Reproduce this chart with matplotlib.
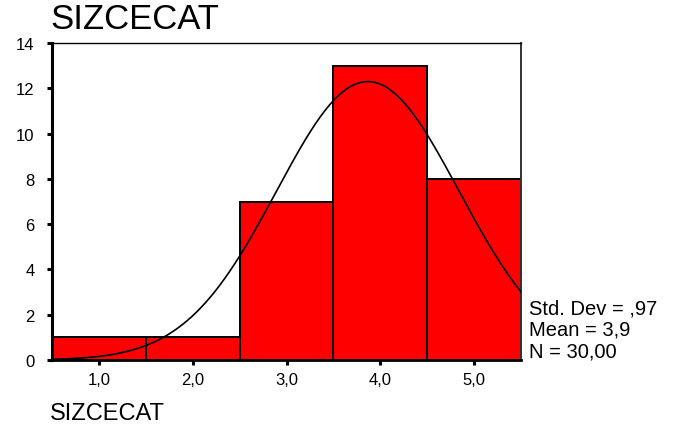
import matplotlib
matplotlib.use('Agg')
import matplotlib.pyplot as plt
import numpy as np

plt.rcParams['font.family'] = ['Liberation Sans', 'DejaVu Sans']

# histogram of SIZCECAT
categories = [1, 2, 3, 4, 5]
counts = [1, 1, 7, 13, 8]
tick_labels = ['1,0', '2,0', '3,0', '4,0', '5,0']
y_ticks = [0, 2, 4, 6, 8, 10, 12, 14]
stats_lines = ['Std. Dev = ,97', 'Mean = 3,9', 'N = 30,00']
var_name = 'SIZCECAT'


def normal_curve(cats, cnts, xs):
    cats = np.asarray(cats, dtype=float)
    cnts = np.asarray(cnts, dtype=float)
    n = cnts.sum()
    mean = (cats * cnts).sum() / n
    sd = np.sqrt(((cats - mean) ** 2 * cnts).sum() / (n - 1))
    # bin width is 1
    return n / (sd * np.sqrt(2 * np.pi)) * np.exp(-0.5 * ((xs - mean) / sd) ** 2)


def main():
    fig = plt.figure(figsize=(6.92, 4.27), dpi=100)
    ax = fig.add_axes([52 / 692, 66 / 427, 469 / 692, 317 / 427])

    ax.bar(categories, counts, width=1.0, color='#ff0000',
           edgecolor='black', linewidth=1.4, zorder=2)

    xs = np.linspace(0.5, 5.5, 300)
    ax.plot(xs, normal_curve(categories, counts, xs), color='black',
            linewidth=1.2, zorder=3)

    ax.set_xlim(0.5, 5.5)
    ax.set_ylim(0, 14)
    ax.set_xticks(categories)
    ax.set_xticklabels(tick_labels)
    ax.set_yticks(y_ticks)
    ax.tick_params(axis='both', direction='out', length=3.5, width=2.2,
                   labelsize=12, color='black')
    ax.tick_params(axis='x', pad=5)
    ax.tick_params(axis='y', pad=9)

    ax.spines['left'].set_linewidth(2.2)
    ax.spines['bottom'].set_linewidth(2.0)
    ax.spines['top'].set_linewidth(1.0)
    ax.spines['right'].set_linewidth(1.4)
    ax.spines['right'].set_color('#333333')

    # title: baseline just below the cap line of the reference
    fig.text(50 / 692, 1 - 29 / 427, var_name, fontsize=25,
             ha='left', va='baseline')
    fig.text(50 / 692, 1 - 414 / 427, var_name, fontsize=17,
             ha='left', va='center')
    for line, yc in zip(stats_lines, [309, 330, 352]):
        fig.text(529 / 692, 1 - yc / 427, line, fontsize=14.5,
                 ha='left', va='center')

    fig.savefig('out.png', dpi=100)
    plt.close(fig)


if __name__ == '__main__':
    main()
